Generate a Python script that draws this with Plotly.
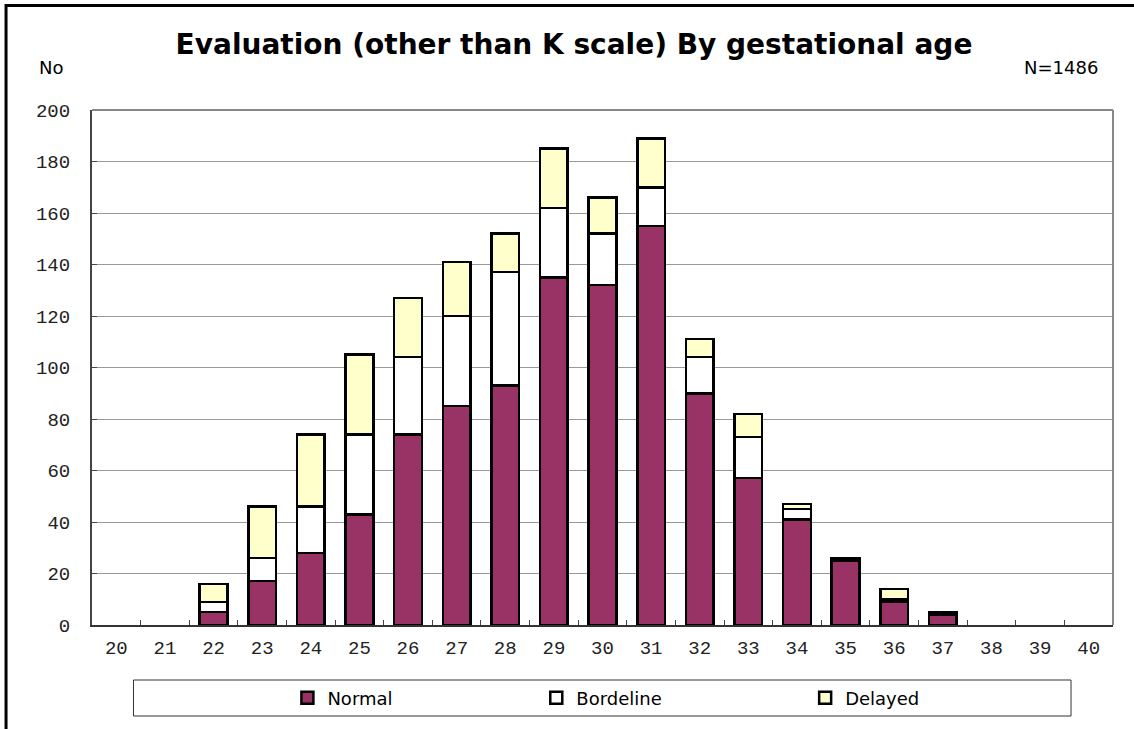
import plotly.graph_objects as go

ages = [str(a) for a in range(20, 41)]
normal =    [None, None, 5, 17, 28, 43, 74, 85, 93, 135, 132, 155, 90, 57, 41, 25, 9, 4, None, None, None]
bordeline = [None, None, 4, 9, 18, 31, 30, 35, 44, 27, 20, 15, 14, 16, 4, 1, 1, 1, None, None, None]
delayed =   [None, None, 7, 20, 28, 31, 23, 21, 15, 23, 14, 19, 7, 9, 2, None, 4, None, None, None, None]
y_ticks = list(range(0, 201, 20))

W, H = 1134, 729
L, R, T, B = 91.5, 1113, 110, 625

def px(x):
    return (x - L) / (R - L)

def py(y):
    return (B - y) / (B - T)

fig = go.Figure()
series = [("Normal", normal, "#993366", "legend"),
          ("Bordeline", bordeline, "#FFFFFF", "legend2"),
          ("Delayed", delayed, "#FFFFCC", "legend3")]
for name, vals, col, lg in series:
    fig.add_trace(go.Bar(x=ages, y=vals, name=name, legend=lg,
                         marker=dict(color=col, line=dict(color="#000000", width=2.5))))

legfont = dict(family="DejaVu Sans", size=18, color="#000000")
leg_common = dict(orientation="h", bgcolor="rgba(0,0,0,0)", borderwidth=0, font=legfont,
                  xanchor="left", yanchor="middle", y=py(698), itemwidth=30)

fig.update_layout(
    width=W, height=H,
    margin=dict(l=L, r=W - R, t=T, b=H - B, pad=0),
    paper_bgcolor="#FFFFFF", plot_bgcolor="#FFFFFF",
    barmode="stack", bargap=0.43,
    title=dict(text="<b>Evaluation (other than K scale) By gestational age</b>",
               font=dict(family="DejaVu Sans", size=28, color="#000000"),
               x=574 / W, xanchor="center", xref="container",
               y=1 - 44 / H, yanchor="middle", yref="container"),
    showlegend=True,
    legend=dict(x=px(287), **leg_common),
    legend2=dict(x=px(536), **leg_common),
    legend3=dict(x=px(805), **leg_common),
    xaxis=dict(type="category", categoryorder="array", categoryarray=ages,
               tickson="boundaries", ticks="inside", ticklen=5, tickwidth=1, tickcolor="#444",
               showline=True, linecolor="#333", linewidth=2, showgrid=False,
               tickfont=dict(family="Liberation Mono", size=19, color="#222"),
               ticklabelstandoff=4, zeroline=False),
    yaxis=dict(range=[0, 200], tickvals=y_ticks, ticks="inside", ticklen=5, tickwidth=1,
               tickcolor="#444", showline=True, linecolor="#444", linewidth=2,
               showgrid=True, gridcolor="#999999", gridwidth=1, zeroline=False,
               tickfont=dict(family="Liberation Mono", size=19, color="#222"),
               ticklabelstandoff=16),
    shapes=[
        dict(type="line", xref="paper", yref="paper", x0=0, x1=1, y0=1, y1=1,
             line=dict(color="#888888", width=2)),
        dict(type="line", xref="paper", yref="paper", x0=1, x1=1, y0=0, y1=1,
             line=dict(color="#888888", width=2)),
        dict(type="rect", xref="paper", yref="paper", x0=px(133), x1=px(1071),
             y0=py(716), y1=py(680), line=dict(color="#333333", width=1)),
        dict(type="line", xref="paper", yref="paper", x0=px(5.5), x1=px(1134),
             y0=py(5.5), y1=py(5.5), line=dict(color="#000000", width=3)),
        dict(type="line", xref="paper", yref="paper", x0=px(5.5), x1=px(5.5),
             y0=py(4), y1=py(729), line=dict(color="#000000", width=3)),
    ],
    annotations=[
        dict(text="No", xref="paper", yref="paper", x=px(50), y=py(67),
             xanchor="center", yanchor="middle", showarrow=False,
             font=dict(family="DejaVu Sans", size=18, color="#000000")),
        dict(text="N=1486", xref="paper", yref="paper", x=px(1061), y=py(67),
             xanchor="center", yanchor="middle", showarrow=False,
             font=dict(family="DejaVu Sans", size=18, color="#000000")),
    ],
)

fig.write_html("out.html", config={"displayModeBar": False},
               post_script="document.body.style.margin='0';document.body.style.overflow='hidden';")
